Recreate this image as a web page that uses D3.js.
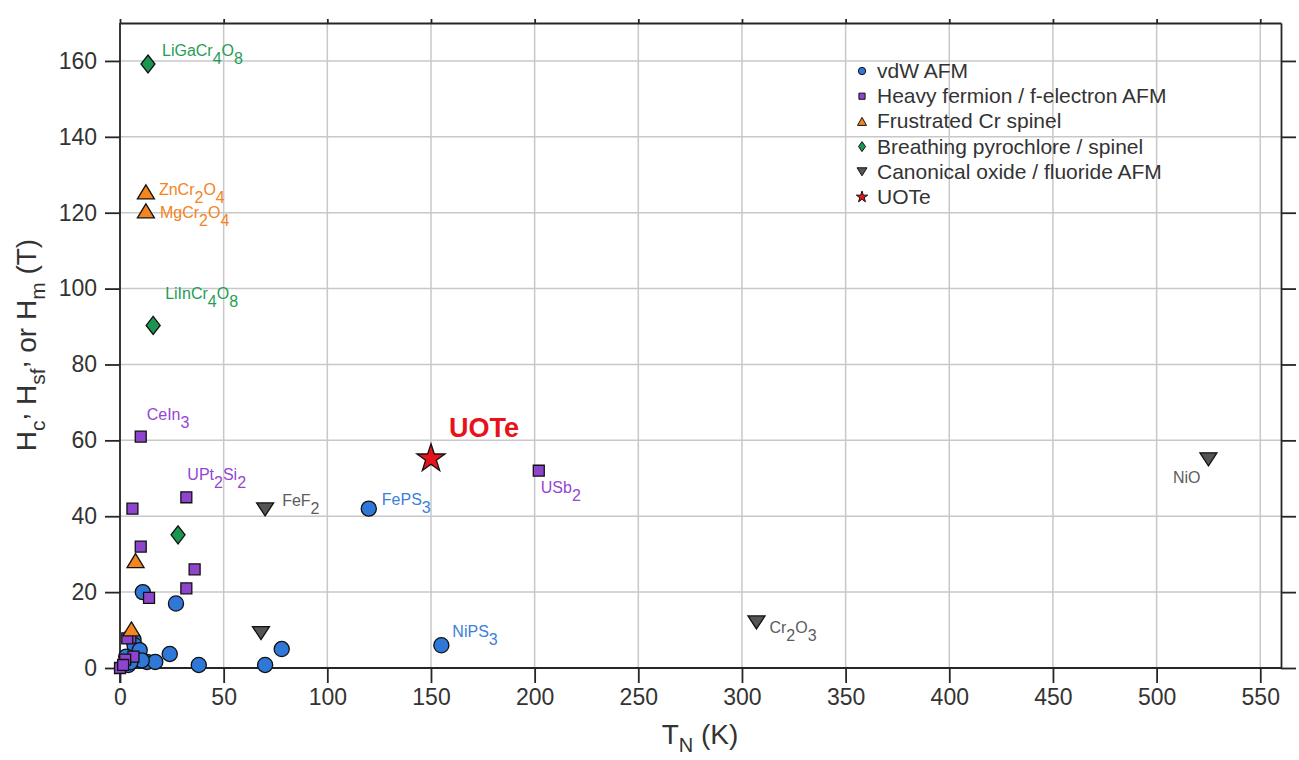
<!DOCTYPE html>
<html>
<head>
<meta charset="utf-8">
<script src="https://cdn.jsdelivr.net/npm/d3@7"></script>
<style>
  body { margin: 0; background: #fff; }
  text { font-family: "Liberation Sans", Arial, Helvetica, sans-serif; }
</style>
</head>
<body>
<div id="chart"></div>
<script>
// ---- data (T_N in K, field in T) ----
const vdwT   = [120, 155, 78, 70, 38, 27, 24, 11, 6.5, 7, 9.5, 13, 17, 10.5, 3, 4, 5];
const vdwH   = [42, 6, 5, 0.8, 0.8, 17, 3.7, 20, 7.4, 6, 4.7, 1.6, 1.6, 2, 3, 0.8, 1.5];
const vdwNames = ["FePS3", "NiPS3"];

const hfT    = [10, 32, 6, 10, 36, 32, 14, 202, 5, 3.5, 6.5, 2.5, 0, 1.5];
const hfH    = [61, 45, 42, 32, 26, 21, 18.5, 52, 8, 7.8, 3, 2.2, 0, 0.8];
const hfNames = ["CeIn3", "UPt2Si2", "", "", "", "", "", "USb2"];

const spinelT = [12.5, 12.5, 7.5, 5.5];
const spinelH = [125.5, 120.5, 28.3, 10.3];
const spinelNames = ["ZnCr2O4", "MgCr2O4"];

const pyroT  = [13.5, 16, 28];
const pyroH  = [159.2, 90.3, 35.1];
const pyroNames = ["LiGaCr4O8", "LiInCr4O8"];

const oxideT = [70, 68, 307, 525];
const oxideH = [41.8, 9.2, 12, 55];
const oxideNames = ["FeF2", "", "Cr2O3", "NiO"];

const uoteT = [150];
const uoteH = [55.2];
const uoteNames = ["UOTe"];

const xTicks = d3.range(0, 551, 50);
const yTicks = d3.range(0, 161, 20);

const legendLabels = [
  "vdW AFM",
  "Heavy fermion / f-electron AFM",
  "Frustrated Cr spinel",
  "Breathing pyrochlore / spinel",
  "Canonical oxide / fluoride AFM",
  "UOTe"
];

// ---- layout ----
const width = 1299, height = 760;
const x = d3.scaleLinear().domain([0, 560]).range([120, 1281]);
const y = d3.scaleLinear().domain([0, 170]).range([668, 23]);

// label offsets in px (text anchor relative to marker centre)
const labelOffset = {
  "FePS3": [13, -4], "NiPS3": [11, -8],
  "CeIn3": [6, -17], "UPt2Si2": [1, -17], "USb2": [2, 22],
  "ZnCr2O4": [13, 3], "MgCr2O4": [14, 7],
  "LiGaCr4O8": [14, -8], "LiInCr4O8": [12, -26],
  "FeF2": [17, -3], "Cr2O3": [13, 11], "NiO": [-8, 24],
  "UOTe": [18, -22]
};

function triPath(w, h, down) {
  const s = down ? -1 : 1;
  return `M0,${-s * h / 2}L${w / 2},${s * h / 2}L${-w / 2},${s * h / 2}Z`;
}
function diamondPath(w, h) {
  return `M0,${-h / 2}L${w / 2},0L0,${h / 2}L${-w / 2},0Z`;
}

const series = [
  { t: vdwT, h: vdwH, names: vdwNames, fill: "#2f78d8", label: "#3a7fdc",
    big: d3.symbol(d3.symbolCircle, 180)(), small: d3.symbol(d3.symbolCircle, 42)() },
  { t: hfT, h: hfH, names: hfNames, fill: "#8e44cc", label: "#9446d4",
    big: d3.symbol(d3.symbolSquare, 120)(), small: d3.symbol(d3.symbolSquare, 38)() },
  { t: spinelT, h: spinelH, names: spinelNames, fill: "#f5861f", label: "#f3841c",
    big: triPath(17, 14, false), small: triPath(9, 8, false) },
  { t: pyroT, h: pyroH, names: pyroNames, fill: "#1b9650", label: "#1f9d55",
    big: diamondPath(14, 18), small: diamondPath(7, 10) },
  { t: oxideT, h: oxideH, names: oxideNames, fill: "#555555", label: "#5c5c5c",
    big: triPath(17, 13, true), small: triPath(10, 8, true) },
  { t: uoteT, h: uoteH, names: uoteNames, fill: "#e8121a", label: "#e8121a",
    big: d3.symbol(d3.symbolStar, 245)(), small: d3.symbol(d3.symbolStar, 40)() }
];

const svg = d3.select("#chart")
  .append("svg")
  .attr("width", width)
  .attr("height", height)
  .attr("viewBox", `0 0 ${width} ${height}`);

// grid
svg.append("g").selectAll("line")
  .data(xTicks)
  .enter().append("line")
  .attr("x1", d => x(d)).attr("x2", d => x(d))
  .attr("y1", y(170)).attr("y2", y(0))
  .attr("stroke", "#c8c8c8").attr("stroke-width", 1.5);

svg.append("g").selectAll("line")
  .data(yTicks)
  .enter().append("line")
  .attr("x1", x(0)).attr("x2", x(560))
  .attr("y1", d => y(d)).attr("y2", d => y(d))
  .attr("stroke", "#c8c8c8").attr("stroke-width", 1.5);

// axes
const axisColor = "#262626";
const axBottom = svg.append("g")
  .attr("transform", `translate(0,${y(0)})`)
  .call(d3.axisBottom(x).tickValues(xTicks).tickSize(15).tickPadding(6).tickSizeOuter(0));
const axLeft = svg.append("g")
  .attr("transform", `translate(${x(0)},0)`)
  .call(d3.axisLeft(y).tickValues(yTicks).tickSize(15).tickPadding(8).tickSizeOuter(0));
const axRight = svg.append("g")
  .attr("transform", `translate(${x(560)},0)`)
  .call(d3.axisRight(y).tickValues(yTicks).tickSize(15).tickFormat("").tickSizeOuter(0));
const axTop = svg.append("g")
  .attr("transform", `translate(0,${y(170)})`)
  .call(d3.axisTop(x).tickValues(xTicks).tickSize(4).tickFormat("").tickSizeOuter(0));

[axBottom, axLeft, axRight, axTop].forEach(g => {
  g.select(".domain").attr("stroke", axisColor).attr("stroke-width", 1.8);
  g.selectAll(".tick line").attr("stroke", axisColor).attr("stroke-width", 1.8);
  g.selectAll(".tick text").attr("fill", "#333").style("font-size", "23px")
    .style("font-family", "'Liberation Sans', Arial, sans-serif");
});
// left spine runs down through the tick zone
axLeft.select(".domain").attr("d", `M0,${y(170)}V${y(0) + 15}`);
axBottom.select(".domain").attr("d", `M${x(0)},0H${x(560)}`);

// points
series.forEach(s => {
  svg.append("g").selectAll("path")
    .data(s.t.map((t, i) => [t, s.h[i]]))
    .enter().append("path")
    .attr("d", s.big)
    .attr("transform", d => `translate(${x(d[0])},${y(d[1])})`)
    .attr("fill", s.fill)
    .attr("stroke", "#111")
    .attr("stroke-width", 1.3);
});

// formula text with subscripted digits
function formulaText(g, name, px, py, color, anchor, size) {
  const txt = g.append("text")
    .attr("x", px).attr("y", py)
    .attr("fill", color)
    .attr("text-anchor", anchor)
    .style("font-size", size + "px");
  const parts = name.match(/\d+|\D+/g);
  let sub = false;
  parts.forEach(p => {
    const isNum = /\d/.test(p);
    const sp = txt.append("tspan").text(p);
    if (isNum && !sub) { sp.attr("dy", 8); sub = true; }
    else if (!isNum && sub) { sp.attr("dy", -8); sub = false; }
  });
  return txt;
}

const labels = svg.append("g");
series.forEach(s => {
  s.names.forEach((name, i) => {
    if (!name) return;
    const off = labelOffset[name];
    const px = x(s.t[i]) + off[0];
    const py = y(s.h[i]) + off[1];
    if (name === "UOTe") {
      labels.append("text").attr("x", px).attr("y", py)
        .attr("fill", s.label).style("font-size", "27px").style("font-weight", "bold")
        .text(name);
    } else {
      formulaText(labels, name, px, py, s.label, name === "NiO" ? "end" : "start", 16);
    }
  });
});

// legend
const legend = svg.append("g").attr("transform", "translate(862,71)");
legendLabels.forEach((lab, i) => {
  const row = legend.append("g").attr("transform", `translate(0,${i * 25.2})`);
  row.append("path").attr("d", series[i].small)
    .attr("fill", series[i].fill).attr("stroke", "#111").attr("stroke-width", 1);
  row.append("text").attr("x", 15).attr("y", 7)
    .attr("fill", "#333").style("font-size", "21px").text(lab);
});

// axis titles
const xTitle = svg.append("text")
  .attr("x", 700).attr("y", 744)
  .attr("text-anchor", "middle")
  .attr("fill", "#333").style("font-size", "28px");
xTitle.append("tspan").text("T");
xTitle.append("tspan").attr("dy", 8).style("font-size", "20px").text("N");
xTitle.append("tspan").attr("dy", -8).text(" (K)");

const yTitle = svg.append("text")
  .attr("transform", "translate(36,345) rotate(-90)")
  .attr("text-anchor", "middle")
  .attr("fill", "#333").style("font-size", "28px");
yTitle.append("tspan").text("H");
yTitle.append("tspan").attr("dy", 9).style("font-size", "21px").text("c");
yTitle.append("tspan").attr("dy", -18).text(",");
yTitle.append("tspan").attr("dy", 9).text(" H");
yTitle.append("tspan").attr("dy", 9).style("font-size", "21px").text("sf");
yTitle.append("tspan").attr("dy", -18).text(",");
yTitle.append("tspan").attr("dy", 9).text(" or H");
yTitle.append("tspan").attr("dy", 9).style("font-size", "21px").text("m");
yTitle.append("tspan").attr("dy", -9).text(" (T)");
</script>
</body>
</html>
